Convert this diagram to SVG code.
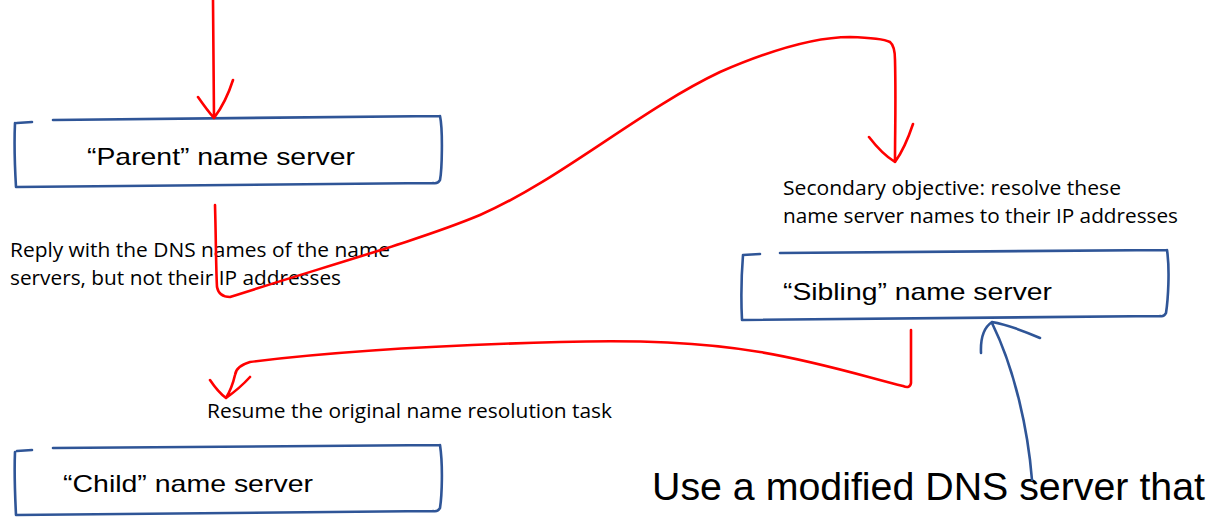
<svg xmlns="http://www.w3.org/2000/svg" width="1207" height="518" viewBox="0 0 1207 518">
<style>
.box{fill:none;stroke:#2f5597;stroke-width:2.6;stroke-linecap:round;stroke-linejoin:round}
.red{fill:none;stroke:#ff0000;stroke-width:2.6;stroke-linecap:round;stroke-linejoin:round}
.blue{fill:none;stroke:#2f5597;stroke-width:2.6;stroke-linecap:round;stroke-linejoin:round}
.hand{font-family:"Liberation Sans","DejaVu Sans",sans-serif;font-size:24px;fill:#000}
.note{font-family:"Open Sans","Liberation Sans",sans-serif;font-size:20px;fill:#000}
.big{font-family:"Liberation Sans","DejaVu Sans",sans-serif;font-size:38px;fill:#000}
</style>
<rect width="1207" height="518" fill="#fff"/>
<g id="parent">
<path class="box" d="M17,123 L32,122 M53,120 L440,116 M440,116 C443,130 442,170 440,180 Q438,184 433,183 M16,187 L433,183 M15,123 C14,145 15,170 16,187"/>
<text class="hand" x="87" y="165" textLength="268" lengthAdjust="spacingAndGlyphs">“Parent” name server</text>
</g>
<g id="sibling">
<path class="box" d="M743,255 L760,254 M780,253 L1167,250 M1167,250 C1170,270 1168,300 1166,313 Q1164,317 1160,316 M742,320 L1160,316 M743,255 C741,280 741,300 742,320"/>
<text class="hand" x="783" y="300" textLength="269" lengthAdjust="spacingAndGlyphs">“Sibling” name server</text>
</g>
<g id="child">
<path class="box" d="M17,451 L32,450 M53,448 L440,445 M440,445 C443,465 442,495 440,508 Q438,512 433,511 M16,515 L433,511 M15,452 C14,475 15,495 16,515"/>
<text class="hand" x="63" y="492" textLength="250" lengthAdjust="spacingAndGlyphs">“Child” name server</text>
</g>
<g id="labels">
<text class="note" x="10" y="257" textLength="380" lengthAdjust="spacingAndGlyphs">Reply with the DNS names of the name</text>
<text class="note" x="10" y="285" textLength="331" lengthAdjust="spacingAndGlyphs">servers, but not their IP addresses</text>
<text class="note" x="783" y="195" textLength="338" lengthAdjust="spacingAndGlyphs">Secondary objective: resolve these</text>
<text class="note" x="783" y="223" textLength="395" lengthAdjust="spacingAndGlyphs">name server names to their IP addresses</text>
<text class="note" x="207" y="418" textLength="405" lengthAdjust="spacingAndGlyphs">Resume the original name resolution task</text>
<text class="big" x="652" y="500" textLength="553" lengthAdjust="spacingAndGlyphs">Use a modified DNS server that</text>
</g>
<g id="connectors">
<path class="red" d="M213,0 C213,40 214,80 214,118 M198,97 Q207,110 214,118 M233,80 Q226,102 214,118"/>
<path class="red" d="M215,205 C216,240 216,270 217,287 Q219,297 230,297 C330,265 420,240 480,215 C560,180 640,110 720,72 C780,46 820,37 850,37 Q882,38 890,42 Q895,46 895,60 C896,100 895,130 895,162 M869,137 Q882,154 895,162 M913,124 Q905,148 895,162"/>
<path class="red" d="M911,330 L911,383 Q910,389 903,386 C870,378 820,362 760,352 C700,342 640,340 560,342 C450,345 330,352 250,362 Q236,366 235,375 Q232,388 226,398 M210,380 Q218,392 226,398 M250,377 Q240,388 226,398"/>
<path class="blue" d="M1032,480 C1028,430 1015,370 992,323 M981,353 Q980,330 992,322 M992,322 Q1010,325 1040,338"/>
</g>
</svg>
